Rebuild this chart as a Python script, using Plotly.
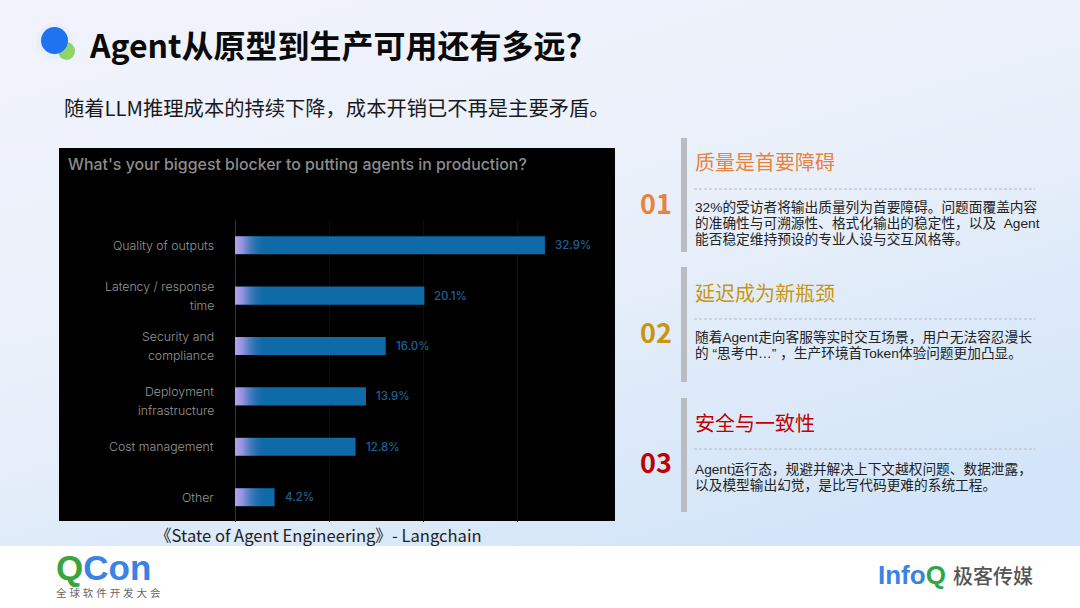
import base64
import plotly.graph_objects as go

# Datos del grafico
categorias = ["Quality of outputs", "Latency / response time", "Security and compliance",
              "Deployment infrastructure", "Cost management", "Other"]
etiquetas = [["Quality of outputs"], ["Latency / response", "time"], ["Security and", "compliance"],
             ["Deployment", "infrastructure"], ["Cost management"], ["Other"]]
valores = [32.9, 20.1, 16.0, 13.9, 12.8, 4.2]

titulo = "Agent从原型到生产可用还有多远?"
subtitulo = "随着LLM推理成本的持续下降，成本开销已不再是主要矛盾。"
titulo_panel = "What's your biggest blocker to putting agents in production?"
fuente_panel = "《State of Agent Engineering》- Langchain"

numeros = ["01", "02", "03"]
encabezados = ["质量是首要障碍", "延迟成为新瓶颈", "安全与一致性"]
colores_sec = ["#e8833a", "#c8960c", "#c00000"]
cuerpos = [
    ["32%的受访者将输出质量列为首要障碍。问题面覆盖内容",
     "的准确性与可溯源性、格式化输出的稳定性，以及  Agent",
     "能否稳定维持预设的专业人设与交互风格等。"],
    ["随着Agent走向客服等实时交互场景，用户无法容忍漫长",
     "的 “思考中…” ，生产环境首Token体验问题更加凸显。"],
    ["Agent运行态，规避并解决上下文越权问题、数据泄露，",
     "以及模型输出幻觉，是比写代码更难的系统工程。"],
]

W, H = 1080, 608
BAR_GAP = 0.64
CJK = "Noto Sans CJK SC"
# fuente latina baja primero: la caja de cada linea queda mas estrecha
CJK_BAJA = "Liberation Sans, Noto Sans CJK SC"


def px(x):
    return x / W


def py(y):
    return 1 - y / H


def svg_uri(svg):
    return "data:image/svg+xml;base64," + base64.b64encode(svg.encode()).decode()


def texto(x, y, s, size, color, anchor="left", font=CJK, weight=None):
    return dict(x=px(x), y=py(y), xref="paper", yref="paper", text=s, showarrow=False,
                xanchor=anchor, yanchor="middle", align=anchor,
                font=dict(family=font, size=size, color=color, weight=weight))


def rect(x0, y0, x1, y1, color, tipo="rect", layer="below", opacity=1):
    return dict(type=tipo, xref="paper", yref="paper", x0=px(x0), x1=px(x1), y0=py(y0), y1=py(y1),
                fillcolor=color, line=dict(width=0), layer=layer, opacity=opacity)


def main():
    fig = go.Figure()

    fig.add_trace(go.Bar(x=valores, y=categorias, orientation="h", marker=dict(color="#0f6ba8", line_width=0),
                         showlegend=False, hoverinfo="skip"))

    anotaciones = [
        texto(87, 44, titulo, 32, "#0a0a0a", weight=700),
        texto(62, 107, subtitulo, 20.3, "#1a1a1a"),
        texto(66, 164, titulo_panel, 15.9, "#8c8c8c", font="Inter", weight=500),
        texto(153, 535, fuente_panel, 16.6, "#222222"),
        texto(54, 567, '<span style="color:#3aa53a">Q</span><span style="color:#3b82e6">Con</span>',
              35, "#3b82e6", font="Liberation Sans", weight=700),
        texto(54, 593, "全 球 软 件 开 发 大 会", 10.5, "#666666", font=CJK_BAJA),
        texto(876, 575, '<span style="color:#3b82e6">Info</span><span style="color:#2fa54a">Q</span>',
              26, "#3b82e6", font="Liberation Sans", weight=700),
        texto(951, 575, "极客传媒", 20, "#555555", weight=500),
    ]

    for v, c in zip(valores, categorias):
        anotaciones.append(dict(x=v, y=c, xref="x", yref="y", text=f"{v:.1f}%", showarrow=False, xanchor="left",
                                xshift=8, font=dict(family="Inter", size=11.5, color="#1a6298", weight=500)))

    # Etiquetas de categoria, interlineado de 19 px como en el original
    ajuste = [0, 0, 0, 5, 0, 0]
    for c, lineas, a in zip(categorias, etiquetas, ajuste):
        for j, linea in enumerate(lineas):
            desp = (j - (len(lineas) - 1) / 2) * 19 + a
            anotaciones.append(dict(x=0, y=c, xref="x", yref="y", text=linea, showarrow=False, xanchor="right",
                                    xshift=-19, yshift=-desp,
                                    font=dict(family="Inter", size=12.3, color="#969696", weight=300)))

    formas = [
        rect(59, 148, 615, 521, "#000000"),
        rect(0, 546, W, H, "#ffffff"),
        rect(36, 23, 73, 59, "#dfe8fb", "circle", opacity=0.4),
        rect(58, 42, 75, 60, "#8fd46a", "circle"),
        rect(41, 27, 68, 54, "#1e73f0", "circle"),
    ]

    # Bloques de la derecha
    tops = [138, 267, 398]
    alto = [114, 115, 114]
    y_encabezado = [161, 292, 422]
    y_numero = [202, 331, 461]
    y_linea = [189, 319, 449]
    y_cuerpo = [207, 337, 469]
    for k in range(3):
        y = tops[k]
        formas.append(rect(681, y, 687, y + alto[k], "#b9bcc0"))
        formas.append(dict(type="line", xref="paper", yref="paper", x0=px(694), x1=px(1035),
                           y0=py(y_linea[k]), y1=py(y_linea[k]),
                           line=dict(color="#b9bcc0", width=1, dash="3px,2px"), layer="below"))
        anotaciones.append(texto(656, y_numero[k], numeros[k], 27, colores_sec[k], anchor="center", weight=700))
        anotaciones.append(texto(693, y_encabezado[k], encabezados[k], 20, colores_sec[k]))
        for j, linea in enumerate(cuerpos[k]):
            anotaciones.append(texto(693, y_cuerpo[k] + j * 16, linea, 13.7, "#222222", font=CJK_BAJA))

    # Fondo con degradado
    fondo = svg_uri('<svg xmlns="http://www.w3.org/2000/svg" width="1080" height="608" preserveAspectRatio="none">'
                    '<defs><linearGradient id="g" x1="0" y1="0" x2="0.5" y2="1">'
                    '<stop offset="0" stop-color="#f1f3fc"/><stop offset="0.5" stop-color="#eaf0fa"/>'
                    '<stop offset="1" stop-color="#d3e5f8"/></linearGradient></defs>'
                    '<rect width="1080" height="608" fill="url(#g)"/></svg>')
    imagenes = [dict(source=fondo, xref="paper", yref="paper", x=0, y=1, sizex=1, sizey=1,
                     sizing="stretch", xanchor="left", yanchor="top", layer="below")]

    # Degradado lila al inicio de cada barra, encima de la barra
    lila = svg_uri('<svg xmlns="http://www.w3.org/2000/svg" width="32" height="18" preserveAspectRatio="none">'
                   '<defs><linearGradient id="l" x1="0" y1="0" x2="1" y2="0">'
                   '<stop offset="0" stop-color="#b4a4ee"/><stop offset="0.25" stop-color="#a397e4" stop-opacity="0.9"/>'
                   '<stop offset="1" stop-color="#0f6ba8" stop-opacity="0"/></linearGradient></defs>'
                   '<rect width="32" height="18" fill="url(#l)"/></svg>')
    for i in range(len(categorias)):
        imagenes.append(dict(source=lila, xref="x", yref="y", x=0, y=i, sizex=3.2, sizey=1 - BAR_GAP,
                             sizing="stretch", xanchor="left", yanchor="middle", layer="above"))

    fig.update_layout(
        width=W, height=H, margin=dict(l=0, r=0, t=0, b=0), autosize=False,
        paper_bgcolor="#ffffff", plot_bgcolor="rgba(0,0,0,0)",
        bargap=BAR_GAP, showlegend=False,
        annotations=anotaciones, shapes=formas, images=imagenes,
        xaxis=dict(domain=[px(235), px(600)], range=[0, 365 / 9.42], dtick=10, showticklabels=False,
                   showgrid=True, gridcolor="#0e0e0e", gridwidth=1, zeroline=True, zerolinecolor="#333333",
                   zerolinewidth=1),
        yaxis=dict(domain=[py(522.4), py(220)], categoryorder="array", categoryarray=categorias,
                   autorange="reversed", showgrid=False, showline=False, ticks="", showticklabels=False),
    )

    fig.write_html("out.html", config=dict(displayModeBar=False), post_script="document.body.style.margin='0';")


if __name__ == "__main__":
    main()
